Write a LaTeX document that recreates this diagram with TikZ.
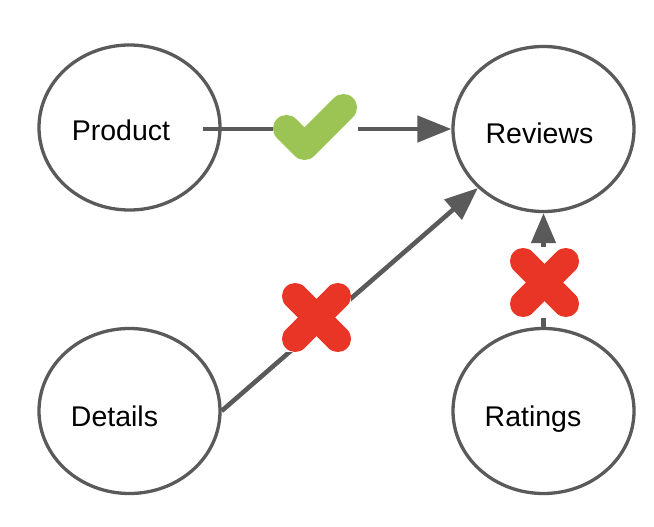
\documentclass[tikz,border=0pt]{standalone}
\usepackage{fontspec}
\setmainfont{Liberation Sans}
\usetikzlibrary{shapes.geometric,arrows.meta}
\definecolor{edgegray}{RGB}{90,90,90}
\definecolor{okgreen}{RGB}{155,196,84}
\definecolor{nored}{RGB}{232,53,38}
\begin{document}
\begin{tikzpicture}[x=1pt,y=-1pt,
  state/.style={ellipse,draw=edgegray,line width=3.3pt,minimum width=181pt,minimum height=165pt,inner sep=0pt},
  lbl/.style={anchor=base,inner sep=0pt,font=\fontsize{28.5}{34}\selectfont},
  edge/.style={draw=edgegray,line width=4.6pt,-{Triangle[length=34pt,width=26pt]}},
  iconbg/.style={fill=white,draw=none},
  checkmark/.style={draw=okgreen,line width=27pt,line cap=round,line join=round},
  crossmark/.style={draw=nored,line width=26.4pt,line cap=round}]
\useasboundingbox[fill=white] (0,0) rectangle (654,527);

\node[state] (prod) at (129.5,127.5) {};
\node[state] (rev) at (543.5,129) {};
\node[state] (det) at (129.5,411) {};
\node[state] (rat) at (543.5,411) {};

\node[lbl] (prodt) at (121,140.7) {Product};
\node[lbl] (revt) at (539.5,143.3) {Reviews};
\node[lbl] (dett) at (114.5,426) {Details};
\node[lbl] (ratt) at (533,426) {Ratings};

\coordinate (pstart) at (203,129);
\draw[edge] (pstart) -- (rev.west);
\draw[edge,-{Triangle[length=33pt,width=26pt]}] (det.east) -- (rev.222);
\draw[edge,-{Triangle[length=30pt,width=24pt]}] (rat.north) -- (rev.south);

% check icon
\path[iconbg] (273,95) rectangle (358,161);
\draw[checkmark] (286.5,128.5) -- (304.5,146.5) -- (343.5,107.5);

% cross icons
\path[iconbg] (282,283) rectangle (351,352);
\draw[crossmark] (295.2,296.2) -- (337.8,338.8);
\draw[crossmark] (295.2,338.8) -- (337.8,296.2);

\path[iconbg] (510,247) rectangle (579,318);
\draw[crossmark] (523.2,261.2) -- (565.8,303.8);
\draw[crossmark] (523.2,303.8) -- (565.8,261.2);
\end{tikzpicture}
\end{document}
